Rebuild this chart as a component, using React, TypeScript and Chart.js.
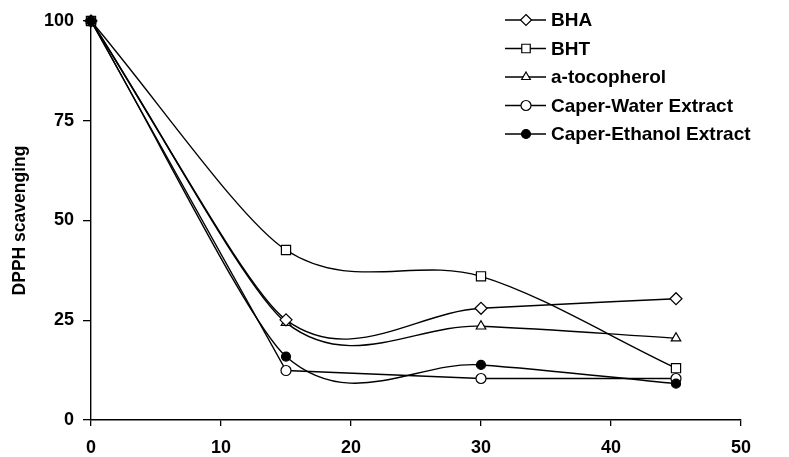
import React, { useEffect, useRef } from "react";
import { Chart, registerables } from "chart.js";

Chart.register(...registerables);

const TIME_MIN = [0, 15, 30, 45];
const BHA = [100, 25.1, 28.0, 30.4];
const BHT = [100, 42.6, 36.0, 13.0];
const TOCOPHEROL = [100, 24.4, 23.5, 20.5];
const WATER_EXTRACT = [100, 12.4, 10.4, 10.4];
const ETHANOL_EXTRACT = [100, 15.9, 13.8, 9.1];

const SERIES_NAMES = ["BHA", "BHT", "a-tocopherol", "Caper-Water Extract", "Caper-Ethanol Extract"];
const X_TICKS = [0, 10, 20, 30, 40, 50];
const Y_TICKS = [0, 25, 50, 75, 100];
const Y_TITLE = "DPPH scavenging";

const FONT = "'Liberation Sans', Arial, sans-serif";

type Style = "rectRot" | "rect" | "triangle" | "circle";

function drawMarker(ctx: CanvasRenderingContext2D, style: Style, x: number, y: number, r: number, fill: string) {
  ctx.beginPath();
  if (style === "rectRot") {
    ctx.moveTo(x, y - r);
    ctx.lineTo(x + r, y);
    ctx.lineTo(x, y + r);
    ctx.lineTo(x - r, y);
    ctx.closePath();
  } else if (style === "rect") {
    const s = r * Math.SQRT1_2;
    ctx.rect(x - s, y - s, 2 * s, 2 * s);
  } else if (style === "triangle") {
    ctx.moveTo(x, y - r);
    ctx.lineTo(x + r * 0.866, y + r * 0.5);
    ctx.lineTo(x - r * 0.866, y + r * 0.5);
    ctx.closePath();
  } else {
    ctx.arc(x, y, r, 0, Math.PI * 2);
  }
  ctx.fillStyle = fill;
  ctx.fill();
  ctx.stroke();
}

// Spreadsheet-style smoothing: Catmull-Rom tangents (1/6), damped on the longer neighbour segment.
const smoothPlugin = {
  id: "sheetSmooth",
  beforeDatasetsDraw(chart: any) {
    chart.data.datasets.forEach((ds: any, di: number) => {
      if (!ds.tension) return;
      const meta = chart.getDatasetMeta(di);
      const pts = meta.data;
      const n = pts.length;
      const dist = (a: any, b: any) => Math.hypot(b.x - a.x, b.y - a.y);
      for (let i = 0; i < n; i++) {
        const p = pts[i];
        if (i === 0) {
          const q = pts[1];
          p.cp1x = p.x; p.cp1y = p.y;
          p.cp2x = p.x + (q.x - p.x) / 3; p.cp2y = p.y + (q.y - p.y) / 3;
        } else if (i === n - 1) {
          const q = pts[n - 2];
          p.cp2x = p.x; p.cp2y = p.y;
          p.cp1x = p.x + (q.x - p.x) / 3; p.cp1y = p.y + (q.y - p.y) / 3;
        } else {
          const a = pts[i - 1];
          const b = pts[i + 1];
          const tx = (b.x - a.x) / 6;
          const ty = (b.y - a.y) / 6;
          const dIn = dist(a, p);
          const dOut = dist(p, b);
          const sIn = Math.min(1, Math.pow(dOut / dIn, 0.8));
          const sOut = Math.min(1, Math.pow(dIn / dOut, 0.8));
          p.cp1x = p.x - tx * sIn; p.cp1y = p.y - ty * sIn;
          p.cp2x = p.x + tx * sOut; p.cp2y = p.y + ty * sOut;
        }
      }
      if (meta.dataset) {
        meta.dataset._pointsUpdated = true;
        meta.dataset._path = undefined;
      }
    });
  },
};

const legendPlugin = {
  id: "customLegend",
  afterDraw(chart: any) {
    const ctx: CanvasRenderingContext2D = chart.ctx;
    ctx.save();
    chart.data.datasets.forEach((ds: any, i: number) => {
      const y = 20 + i * 28.5;
      ctx.strokeStyle = "#000";
      ctx.lineWidth = 1.4;
      ctx.beginPath();
      ctx.moveTo(505, y);
      ctx.lineTo(546, y);
      ctx.stroke();
      ctx.lineWidth = 1.2;
      drawMarker(ctx, ds.pointStyle, 526, y, ds.legendRadius, ds.pointBackgroundColor);
      ctx.fillStyle = "#000";
      ctx.font = `bold 19px ${FONT}`;
      ctx.textBaseline = "middle";
      ctx.textAlign = "left";
      ctx.fillText(ds.label, 551, y + 1);
    });
    ctx.restore();
  },
};

export default function App() {
  const canvasRef = useRef<HTMLCanvasElement | null>(null);

  useEffect(() => {
    if (!canvasRef.current) return;
    const mk = (vals: number[]) => TIME_MIN.map((x, i) => ({ x, y: vals[i] }));
    const base = {
      borderColor: "#000",
      borderWidth: 1.4,
      pointBorderColor: "#000",
      pointBorderWidth: 1.2,
      tension: 0.4,
      clip: false as any,
      fill: false,
    };
    const chart = new Chart(canvasRef.current, {
      type: "line",
      data: {
        datasets: [
          { ...base, label: SERIES_NAMES[0], data: mk(BHA), pointStyle: "rectRot", pointRadius: 6, pointBackgroundColor: "#fff", legendRadius: 5.5 } as any,
          { ...base, label: SERIES_NAMES[1], data: mk(BHT), pointStyle: "rect", pointRadius: 6.5, pointBackgroundColor: "#fff", legendRadius: 6 } as any,
          { ...base, label: SERIES_NAMES[2], data: mk(TOCOPHEROL), pointStyle: "triangle", pointRadius: 5.5, pointBackgroundColor: "#fff", legendRadius: 5 } as any,
          { ...base, label: SERIES_NAMES[3], data: mk(WATER_EXTRACT), tension: 0, pointStyle: "circle", pointRadius: 5, pointBackgroundColor: "#fff", legendRadius: 5 } as any,
          { ...base, label: SERIES_NAMES[4], data: mk(ETHANOL_EXTRACT), pointStyle: "circle", pointRadius: 4.5, pointBackgroundColor: "#000", legendRadius: 4.5, order: -1 } as any,
        ],
      },
      options: {
        animation: false,
        responsive: true,
        maintainAspectRatio: false,
        layout: { padding: { top: 21, right: 48, bottom: 0, left: 0 } },
        plugins: {
          legend: { display: false },
          tooltip: { enabled: false },
        },
        scales: {
          x: {
            type: "linear",
            min: 0,
            max: 50,
            afterBuildTicks: (s: any) => {
              s.ticks = X_TICKS.map((v) => ({ value: v }));
            },
            afterFit: (s: any) => {
              s.height = 37;
            },
            ticks: {
              color: "#000",
              font: { family: FONT, size: 18, weight: "bold" },
              padding: 11,
              maxRotation: 0,
            },
            grid: { display: true, drawOnChartArea: false, drawTicks: true, tickLength: 6, color: "#000", lineWidth: 1.3 },
            border: { display: true, color: "#000", width: 1.4 },
          },
          y: {
            type: "linear",
            min: 0,
            max: 100,
            afterBuildTicks: (s: any) => {
              s.ticks = Y_TICKS.map((v) => ({ value: v }));
            },
            afterFit: (s: any) => {
              s.width = 91;
            },
            ticks: {
              color: "#000",
              font: { family: FONT, size: 18, weight: "bold" },
              padding: 9,
            },
            title: {
              display: true,
              text: Y_TITLE,
              color: "#000",
              font: { family: FONT, size: 17.5, weight: "bold" },
              padding: { top: 10, bottom: 0 },
            },
            grid: { display: true, drawOnChartArea: false, drawTicks: true, tickLength: 8, color: "#000", lineWidth: 1.3 },
            border: { display: true, color: "#000", width: 1.4 },
          },
        },
      },
      plugins: [smoothPlugin, legendPlugin],
    });
    return () => chart.destroy();
  }, []);

  return (
    <div style={{ position: "absolute", left: 0, top: 0, width: 789, height: 457, background: "#fff" }}>
      <canvas ref={canvasRef} />
    </div>
  );
}
